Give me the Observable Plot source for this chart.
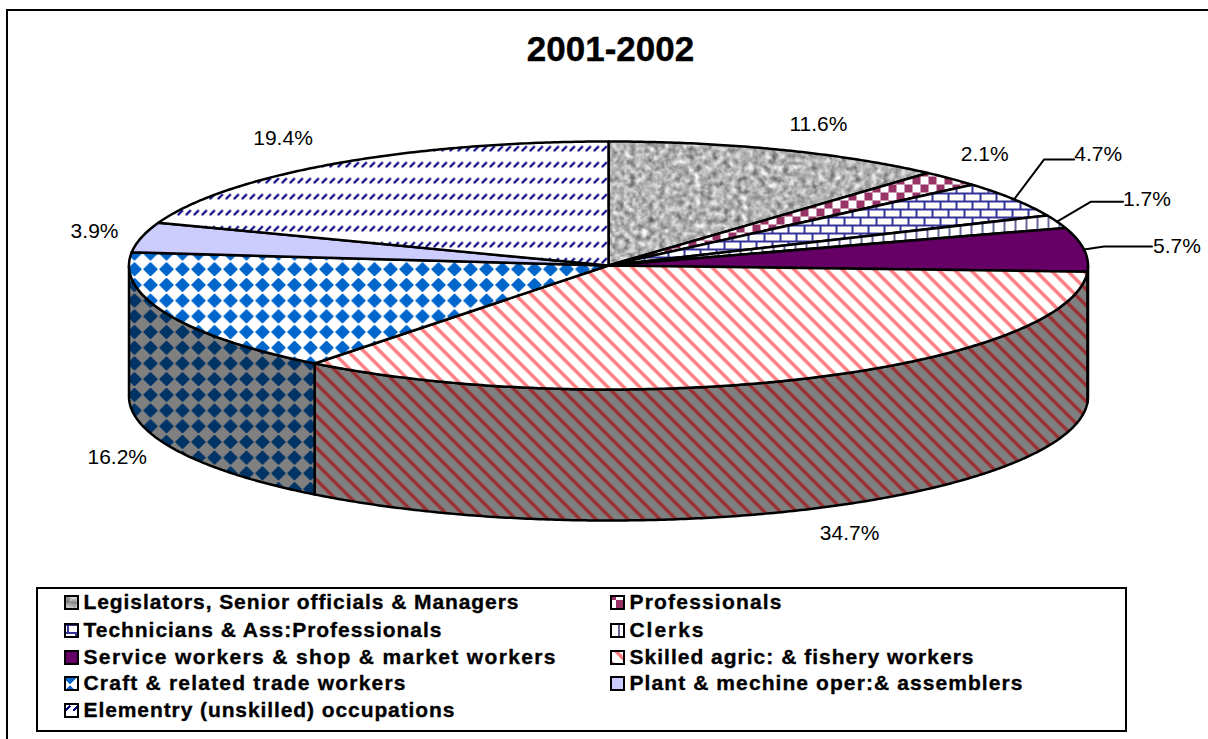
<!DOCTYPE html>
<html><head><meta charset="utf-8">
<script src="https://cdn.jsdelivr.net/npm/d3@7"></script>
<script src="https://cdn.jsdelivr.net/npm/@observablehq/plot@0.6"></script>
<style>html,body{margin:0;padding:0;background:#fff;overflow:hidden}svg{display:block}
.legend-text text{stroke:#000;stroke-width:.35px}
.title-text text{stroke:#000;stroke-width:.4px}
pattern *{shape-rendering:crispEdges}
</style>
</head><body><div id="chart"></div>
<script>
const categories = ["Legislators, Senior officials & Managers","Professionals","Technicians & Ass:Professionals","Clerks","Service workers & shop & market workers","Skilled agric: & fishery workers","Craft & related trade workers","Plant & mechine oper:& assemblers","Elementry (unskilled) occupations"];
const shares = [11.6,2.1,4.7,1.7,5.7,34.7,16.2,3.9,19.4];
const labels = ["11.6%","2.1%","4.7%","1.7%","5.7%","34.7%","16.2%","3.9%","19.4%"];
const patterns = ["granite","checker","brick","vlines","service","stripes","diamonds","plant","slashes"];

// layout
const W=1208,H=739,cx=608,cy=265,rx=479.5,ry=124,depth=131;
const legend={x1:37,y1:588,x2:1126,y2:731,col:[83,629],swatchCol:[71,617],row:[602,630,657,683,710]};
const legendTextWidth=[435,152,358,74,472,344,322,393,371];
// label offset from rim at slice mid-angle (px)
const labelOffset=[[39,-25],[34,-24],[84,-45],[90,-22],[93,-3],[41,155],[-50,143],[-47,-6],[-51,-26]];
const leaders={2:[[30,-40],[60,-40]],3:[[34,-20],[66,-20]],4:[[20,-3],[68,-3]]};

const rim=(deg,dy=0)=>{const t=deg*Math.PI/180;return [cx+rx*Math.sin(t),cy-ry*Math.cos(t)+dy]};
const arc=(a,b,dy=0)=>{const n=Math.max(2,Math.ceil(Math.abs(b-a)*2));return d3.range(n+1).map(i=>rim(a+(b-a)*i/n,dy))};
let c=0;
const slices=shares.map((v,i)=>{const a=c*3.6;c+=v;const b=c*3.6;return{i,a,b,mid:(a+b)/2,pat:patterns[i]}});

const P=(pts)=>pts.map(p=>({x:p[0],y:p[1]}));
const A={x:"x",y:"y",curve:"linear",stroke:"#000",strokeWidth:2.5};

// pattern definitions
const defs=()=>{
  const ns="http://www.w3.org/2000/svg";
  const wrap=document.createElementNS(ns,"defs");
  const dia=(c)=>`<polygon fill="${c}" points="8,0.6 15.4,7.85 8,15.1 0.6,7.85"/>`;
  const stripe=(c,bg)=>`<rect width="16" height="16" fill="${bg}"/><path d="M-4,-4L20,20 M-12,4 L12,28 M4,-12 L28,12" stroke="${c}" stroke-width="4" fill="none"/>`;
  wrap.innerHTML=`
  <filter id="grainF" x="0" y="0" width="100%" height="100%" color-interpolation-filters="sRGB">
    <feTurbulence type="fractalNoise" baseFrequency="0.17" numOctaves="4" seed="7"/>
    <feColorMatrix type="matrix" values="0.62 0.62 0 0 0.08  0.62 0.62 0 0 0.08  0.62 0.62 0 0 0.08  0 0 0 0 1"/>
  </filter>
  <pattern id="granite" patternUnits="userSpaceOnUse" width="512" height="256"><rect width="512" height="256" filter="url(#grainF)"/></pattern>
  <pattern id="checker" patternUnits="userSpaceOnUse" width="16" height="16"><rect width="16" height="16" fill="#fff"/><rect width="8" height="8" fill="#993366"/><rect x="8" y="8" width="8" height="8" fill="#993366"/></pattern>
  <pattern id="brick" patternUnits="userSpaceOnUse" width="16" height="16"><rect width="16" height="16" fill="#fff"/><path d="M0,1H16M0,9H16M4,1V9M12,9V16" stroke="#333399" stroke-width="2" fill="none"/></pattern>
  <pattern id="vlines" patternUnits="userSpaceOnUse" width="11" height="16"><rect width="11" height="16" fill="#fff"/><rect x="2" width="2" height="16" fill="#666699"/></pattern>
  <pattern id="service" patternUnits="userSpaceOnUse" width="8" height="8"><rect width="8" height="8" fill="#660066"/></pattern>
  <pattern id="stripes" patternUnits="userSpaceOnUse" width="16" height="16" patternTransform="translate(12.7,0)">${stripe("#FF8080","#fff")}</pattern>
  <pattern id="stripesD" patternUnits="userSpaceOnUse" width="16" height="16" patternTransform="translate(12.7,0)">${stripe("#993333","#808080")}</pattern>
  <pattern id="diamonds" patternUnits="userSpaceOnUse" width="16" height="15.7" patternTransform="translate(-2,-6)"><rect width="16" height="15.7" fill="#fff"/>${dia("#0066CC")}</pattern>
  <pattern id="diamondsD" patternUnits="userSpaceOnUse" width="16" height="15.7" patternTransform="translate(-2,-6)"><rect width="16" height="15.7" fill="#808080"/>${dia("#003366")}</pattern>
  <pattern id="plant" patternUnits="userSpaceOnUse" width="8" height="8"><rect width="8" height="8" fill="#CCCCFF"/></pattern>
  <pattern id="slashes" patternUnits="userSpaceOnUse" width="8" height="16"><rect width="8" height="16" fill="#fff"/><path d="M1,7L6,2" stroke="#000080" stroke-width="1.6" fill="none"/></pattern>`;
  return wrap;
};

const sideMarks=[];
for(const s of slices){
  const a=Math.max(s.a,90),b=Math.min(s.b,270);
  if(a>=b) continue;
  const top=arc(a,b), bot=arc(b,a,depth);
  const fill=s.pat==="stripes"?"url(#stripesD)":s.pat==="diamonds"?"url(#diamondsD)":s.pat==="service"?"#330033":"#808080";
  sideMarks.push(Plot.line(P([...top,...bot,top[0]]),{...A,fill}));
}
const topMarks=slices.map(s=>{
  const pts=[[cx,cy],...arc(s.a,s.b),[cx,cy]];
  return Plot.line(P(pts),{...A,fill:`url(#${s.pat})`});
});

const leaderMarks=Object.entries(leaders).map(([i,off])=>{
  const o=rim(slices[+i].mid);
  return Plot.line(P([o,...off.map(d=>[o[0]+d[0],o[1]+d[1]])]),{x:"x",y:"y",curve:"linear",stroke:"#000",strokeWidth:2});
});

const labelData=slices.map((s,i)=>{const o=rim(s.mid);return{x:o[0]+labelOffset[i][0],y:o[1]+labelOffset[i][1],t:labels[i]}});
const legendData=categories.map((name,i)=>({name,x:legend.col[i%2],sx:legend.swatchCol[i%2],y:legend.row[Math.floor(i/2)],pat:patterns[i]}));
const font="Liberation Sans";

const plot=Plot.plot({
  width:W,height:H,margin:0,style:{background:"#fff",overflow:"visible"},
  x:{domain:[0,W],range:[0,W],axis:null},
  y:{domain:[0,H],range:[0,H],axis:null},
  marks:[
    defs,
    Plot.line(P([[6,739],[6,9],[W,9]]),{x:"x",y:"y",curve:"linear",stroke:"#000",strokeWidth:2,shapeRendering:"crispEdges"}),
    ...sideMarks,
    ...topMarks,
    ...leaderMarks,
    Plot.text(["2001-2002"],{x:()=>610,y:()=>49,text:d=>d,fontSize:35,fontWeight:"bold",fontFamily:font,fill:"#000",className:"title-text"}),
    Plot.text(labelData,{x:"x",y:"y",text:"t",fontSize:21,fontFamily:font,fill:"#000"}),
    Plot.rect([legend],{x1:"x1",x2:"x2",y1:"y1",y2:"y2",fill:"#fff",stroke:"#000",strokeWidth:2,shapeRendering:"crispEdges"}),
    ...legendData.map(d=>Plot.rect([d],{x1:e=>e.sx-6.5,x2:e=>e.sx+6.5,y1:e=>e.y-6,y2:e=>e.y+7,fill:`url(#${d.pat})`,stroke:"#000",strokeWidth:2,shapeRendering:"crispEdges"})),
    Plot.text(legendData,{x:"x",y:"y",text:"name",textAnchor:"start",fontSize:21,fontWeight:"bold",fontFamily:font,fill:"#000",className:"legend-text"})
  ]
});
document.getElementById("chart").append(plot);
plot.querySelectorAll(".legend-text text").forEach((t,i)=>{t.setAttribute("textLength",legendTextWidth[i]);t.setAttribute("lengthAdjust","spacing");});
</script></body></html>
